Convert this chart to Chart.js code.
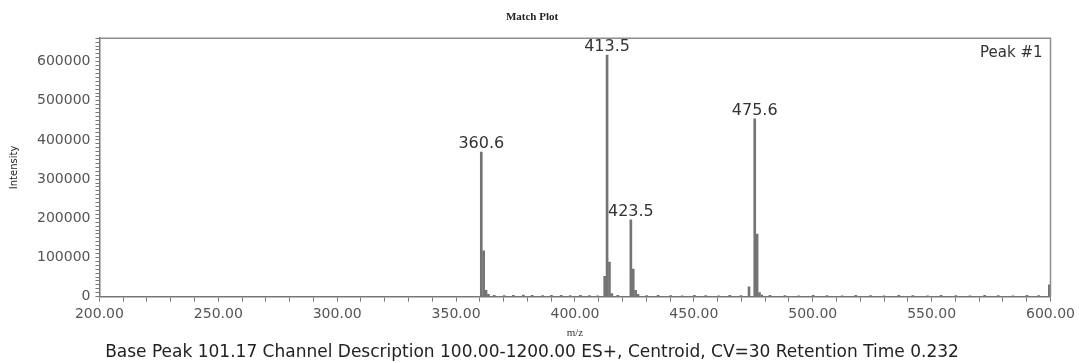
<!DOCTYPE html>
<html lang="en">
<head>
<meta charset="UTF-8">
<title>Match Plot</title>
<script src="https://cdn.jsdelivr.net/npm/chart.js"></script>
<style>
  html, body { margin: 0; padding: 0; background: #fff; }
  #wrap { width: 1079px; height: 363px; }
</style>
</head>
<body>
<div id="wrap"><canvas id="matchPlot"></canvas></div>
<script>
// m/z of each centroid stick and its intensity
const mzValues = [
  360.6, 361.6, 362.6, 363.6, 366.0, 370.2, 374.1, 378.3, 382.0, 386.4, 390.1, 394.2, 398.0, 402.3, 406.1, 409.5,
  412.5, 413.5, 414.5, 415.5, 418.0,
  423.5, 424.5, 425.5, 426.5, 430.2, 435.0, 440.3, 445.1, 450.2, 455.0, 460.4, 465.1, 469.8,
  473.2, 475.6, 476.6, 477.6, 478.6,
  482.0, 488.3, 494.1, 500.2, 506.0, 512.4, 518.1, 524.3, 530.0, 536.2, 542.1, 548.3, 554.0, 560.2, 566.1,
  572.3, 578.0, 584.2, 590.1, 595.0, 599.5
];
const intensities = [
  369000, 117000, 16000, 6000, 3000, 2500, 3000, 4000, 3000, 2500, 3000, 3500, 2500, 3000, 2500, 2000,
  52000, 617000, 88000, 8000, 3000,
  196000, 70000, 16000, 6000, 2500, 3000, 2500, 2000, 3000, 2500, 2000, 3000, 2500,
  25000, 454000, 160000, 10000, 4000,
  3000, 2500, 2000, 3000, 2500, 2000, 3000, 2500, 2000, 3000, 2500, 2000, 3000, 2500, 2000,
  3000, 2500, 2000, 3000, 2500, 30000
];
const labelledPeaks = [360.6, 413.5, 423.5, 475.6];
const xTickLabels = [200, 250, 300, 350, 400, 450, 500, 550, 600];
const yTickLabels = [0, 100000, 200000, 300000, 400000, 500000, 600000];

const tickFont = { family: 'DejaVu Sans', size: 14 };

const framePlugin = {
  id: 'frame',
  afterDraw(chart) {
    const { ctx, chartArea: a } = chart;
    ctx.save();
    ctx.strokeStyle = '#8c8c8c';
    ctx.lineWidth = 1.5;
    ctx.beginPath();
    ctx.moveTo(a.left, a.top);
    ctx.lineTo(a.right, a.top);
    ctx.lineTo(a.right, a.bottom);
    ctx.stroke();
    ctx.fillStyle = '#333';
    ctx.font = '15px "DejaVu Sans"';
    ctx.textAlign = 'right';
    ctx.textBaseline = 'top';
    ctx.fillText('Peak #1', a.right - 8, a.top + 7);
    ctx.restore();
  }
};

const peakLabelPlugin = {
  id: 'peakLabels',
  afterDatasetsDraw(chart) {
    const { ctx, scales } = chart;
    ctx.save();
    ctx.fillStyle = '#333';
    ctx.font = '16px "DejaVu Sans"';
    ctx.textAlign = 'center';
    ctx.textBaseline = 'alphabetic';
    labelledPeaks.forEach(mz => {
      const i = mzValues.indexOf(mz);
      const x = scales.x.getPixelForValue(mz);
      const y = scales.y.getPixelForValue(intensities[i]);
      ctx.fillText(mz.toFixed(1), x, y - 4);
    });
    ctx.restore();
  }
};

new Chart(document.getElementById('matchPlot'), {
  type: 'bar',
  data: {
    datasets: [{
      data: mzValues.map((mz, i) => ({ x: mz, y: intensities[i] })),
      backgroundColor: '#747474',
      barThickness: 2
    }]
  },
  options: {
    responsive: true,
    maintainAspectRatio: false,
    animation: false,
    layout: { padding: { left: 8, right: 23, top: 0, bottom: 0 } },
    plugins: {
      legend: { display: false },
      tooltip: { enabled: false },
      title: {
        display: true,
        text: 'Match Plot',
        color: '#222',
        font: { family: 'Liberation Serif', size: 11, weight: 'bold' },
        padding: { top: 11, bottom: 14 }
      },
      subtitle: {
        display: true,
        position: 'bottom',
        text: 'Base Peak 101.17 Channel Description 100.00-1200.00 ES+, Centroid, CV=30 Retention Time 0.232',
        color: '#222',
        font: { family: 'DejaVu Sans', size: 17 },
        padding: { top: 3, bottom: 0 }
      }
    },
    scales: {
      x: {
        type: 'linear',
        offset: false,
        min: 200,
        max: 600,
        grid: { offset: false, drawOnChartArea: false, tickLength: 5, tickColor: '#777' },
        border: { color: '#777', width: 1.5 },
        ticks: {
          stepSize: 10,
          autoSkip: false,
          maxRotation: 0,
          padding: 4,
          color: '#555',
          font: tickFont,
          callback: v => xTickLabels.includes(v) ? v.toFixed(2) : ''
        },
        title: {
          display: true,
          text: 'm/z',
          color: '#333',
          font: { family: 'Liberation Serif', size: 11 },
          padding: { top: 0, bottom: 0 }
        }
      },
      y: {
        min: 0,
        max: 660000,
        grid: { drawOnChartArea: false, tickLength: 4, tickColor: '#777' },
        border: { color: '#777', width: 1.5 },
        ticks: {
          stepSize: 10000,
          autoSkip: false,
          padding: 5,
          color: '#555',
          font: tickFont,
          callback: v => yTickLabels.includes(v) ? String(v) : ''
        },
        title: {
          display: true,
          text: 'Intensity',
          color: '#222',
          font: { family: 'DejaVu Sans', size: 10 },
          padding: { top: 0, bottom: 12 }
        }
      }
    }
  },
  plugins: [framePlugin, peakLabelPlugin]
});
</script>
</body>
</html>
